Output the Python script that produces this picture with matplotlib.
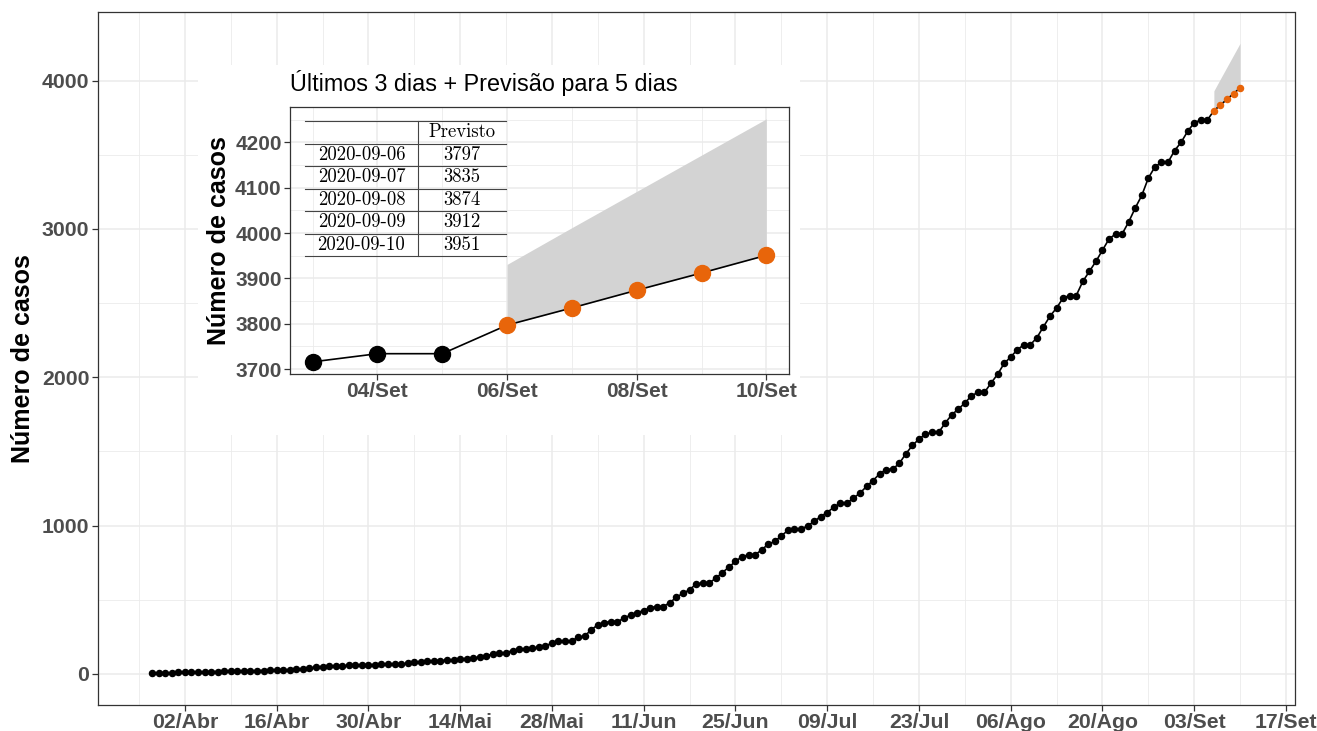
import matplotlib
matplotlib.use("Agg")
import matplotlib.pyplot as plt
import matplotlib.dates as mdates
import pandas as pd

plt.rcParams["font.family"] = ["Liberation Sans", "DejaVu Sans"]

# ─── Data ─────────────────────────────────────────────────────────────────────
INICIO = "2020-03-28"          # first observed day
casos = [
    3, 5, 6, 8, 10, 11, 12, 13, 14, 15, 16, 17, 18, 19, 20, 21, 22, 23, 25, 26,
    27, 29, 30, 32, 38, 47, 50, 52, 54, 56, 57, 59, 60, 62, 63, 64, 65, 66, 68, 71,
    78, 82, 85, 87, 90, 93, 96, 101, 104,
    110, 112, 124, 133, 139, 144, 157, 166, 166, 175,
    180, 189, 207, 223, 223, 223, 247, 256, 297, 331,
    346, 353, 353, 375, 398, 414, 427, 447, 454, 454,
    481, 517, 544, 567, 607, 613, 613, 645, 683, 720,
    758, 791, 803, 803, 836, 875, 893, 931, 967, 976,
    976, 998, 1028, 1061, 1088, 1124, 1151, 1151, 1185, 1219,
    1264, 1304, 1349, 1378, 1381, 1419, 1484, 1540, 1583, 1617,
    1628, 1628, 1691, 1747, 1785, 1826, 1875, 1898, 1898, 1961,
    2020, 2093, 2137, 2185, 2219, 2219, 2267, 2341, 2412, 2467,
    2535, 2551, 2551, 2646, 2714, 2781, 2856, 2932, 2966, 2966,
    3047, 3141, 3226, 3343, 3418, 3449, 3449, 3528, 3584, 3658,
    3716, 3734, 3734,
]
prev_datas = ["2020-09-06", "2020-09-07", "2020-09-08", "2020-09-09", "2020-09-10"]
previsto = [3797, 3835, 3874, 3912, 3951]
previsto_sup = [3931, 4012, 4092, 4172, 4252]

MESES = ["Jan", "Fev", "Mar", "Abr", "Mai", "Jun", "Jul", "Ago", "Set", "Out", "Nov", "Dez"]

# ─── Style ────────────────────────────────────────────────────────────────────
LARANJA = "#E8650A"
CINZA_GRID = "#EBEBEB"
CINZA_TXT = "#4D4D4D"
BORDA = "#333333"
W, H = 1317, 731


def rotulo(d):
    return f"{d.day:02d}/{MESES[d.month - 1]}"


def estilo_bw(ax, tick_size):
    ax.set_facecolor("white")
    for sp in ax.spines.values():
        sp.set_edgecolor(BORDA)
        sp.set_linewidth(0.9)
    ax.grid(True, which="major", color=CINZA_GRID, linewidth=1.1, zorder=0)
    ax.grid(True, which="minor", color=CINZA_GRID, linewidth=0.6, zorder=0)
    ax.set_axisbelow(True)
    ax.tick_params(which="major", length=4, width=0.9, color=BORDA,
                   labelsize=tick_size, labelcolor=CINZA_TXT, pad=2)
    ax.tick_params(which="minor", length=0)


def limites(lo, hi, frac=0.05):
    pad = (hi - lo) * frac
    return lo - pad, hi + pad


datas = pd.date_range(INICIO, periods=len(casos), freq="D")
pdatas = pd.to_datetime(prev_datas)
todas_datas = list(datas) + list(pdatas)
todos_valores = casos + previsto

fig = plt.figure(figsize=(W / 100, H / 100), dpi=100)

# ─── Main panel ───────────────────────────────────────────────────────────────
ax = fig.add_axes([97.7 / W, 1 - 705 / H, (1294.5 - 97.7) / W, (705 - 11.7) / H], zorder=1)
estilo_bw(ax, 15.3)

ax.fill_between(pdatas, previsto, previsto_sup, color="#D3D3D3", linewidth=0, zorder=2)
ax.plot(todas_datas, todos_valores, color="black", linewidth=1.2, zorder=3)
ax.plot(datas, casos, "o", color="black", markersize=4.4, zorder=4)
ax.plot(pdatas, previsto, "o", color=LARANJA, markersize=4.4, zorder=4)

xt = pd.date_range("2020-04-02", "2020-09-17", freq="14D")
ax.set_xticks(list(xt), labels=[rotulo(d) for d in xt], fontweight="bold")
ax.set_xticks(list(pd.date_range("2020-03-26", "2020-09-24", freq="14D")), minor=True)
yt = [0, 1000, 2000, 3000, 4000]
ax.set_yticks(yt, labels=[str(v) for v in yt], fontweight="bold")
ax.set_yticks([500, 1500, 2500, 3500], minor=True)
ax.set_xlim(*limites(mdates.date2num(datas[0]), mdates.date2num(pdatas[-1])))
ax.set_ylim(*limites(min(casos), max(previsto_sup)))
ax.set_ylabel("Número de casos", fontsize=18, fontweight="bold", labelpad=5)

# white box behind inset
bg = fig.add_axes([198 / W, 1 - 435 / H, (800 - 198) / W, (435 - 65) / H], zorder=2)
bg.set_facecolor("white")
bg.set_xticks([])
bg.set_yticks([])
for sp in bg.spines.values():
    sp.set_visible(False)

# ─── Inset ────────────────────────────────────────────────────────────────────
ai = fig.add_axes([290 / W, 1 - 374 / H, (789 - 290) / W, (374 - 106.7) / H], zorder=3)
estilo_bw(ai, 15)

ult_datas = list(datas[-3:])
ult_casos = casos[-3:]
ai.fill_between(pdatas, previsto, previsto_sup, color="#D3D3D3", linewidth=0, zorder=2)
ai.plot(ult_datas + list(pdatas), ult_casos + previsto, color="black", linewidth=1.2, zorder=3)
ai.plot(ult_datas, ult_casos, "o", color="black", markersize=11.5, zorder=4)
ai.plot(pdatas, previsto, "o", color=LARANJA, markersize=11.5, zorder=4)

xi = pd.date_range("2020-09-04", "2020-09-10", freq="2D")
ai.set_xticks(list(xi), labels=[rotulo(d) for d in xi], fontweight="bold")
ai.set_xticks(list(pd.date_range("2020-09-03", "2020-09-09", freq="2D")), minor=True)
yi = [3700, 3800, 3900, 4000, 4100, 4200]
ai.set_yticks(yi, labels=[str(v) for v in yi], fontweight="bold")
ai.set_yticks([3750, 3850, 3950, 4050, 4150, 4250], minor=True)
ai.set_xlim(*limites(mdates.date2num(ult_datas[0]), mdates.date2num(pdatas[-1])))
ai.set_ylim(*limites(min(ult_casos), max(previsto_sup)))
ai.set_ylabel("Número de casos", fontsize=18, fontweight="bold", labelpad=3)
ai.set_title("Últimos 3 dias + Previsão para 5 dias", fontsize=16.8, loc="left", pad=11)

# forecast table (top-left of inset)
tx0, txm, tx1 = 0.030, 0.2565, 0.433
ty0, row_h = 0.9465, 0.0842
linhas = [("", "Previsto")] + [(d, str(v)) for d, v in zip(prev_datas, previsto)]
for i, (c1, c2) in enumerate(linhas):
    yc = ty0 - (i + 0.5) * row_h
    ai.text((tx0 + txm) / 2, yc, c1, transform=ai.transAxes, ha="center", va="center",
            fontsize=13.5, family="cmr10", zorder=6)
    ai.text((txm + tx1) / 2, yc, c2, transform=ai.transAxes, ha="center", va="center",
            fontsize=13.5, family="cmr10", zorder=6)
for i in range(len(linhas) + 1):
    yl = ty0 - i * row_h
    ai.plot([tx0, tx1], [yl, yl], transform=ai.transAxes, color="#444444",
            linewidth=0.8, zorder=6)
ai.plot([txm, txm], [ty0, ty0 - len(linhas) * row_h], transform=ai.transAxes,
        color="#444444", linewidth=0.8, zorder=6)

fig.savefig("out.png", dpi=100)
